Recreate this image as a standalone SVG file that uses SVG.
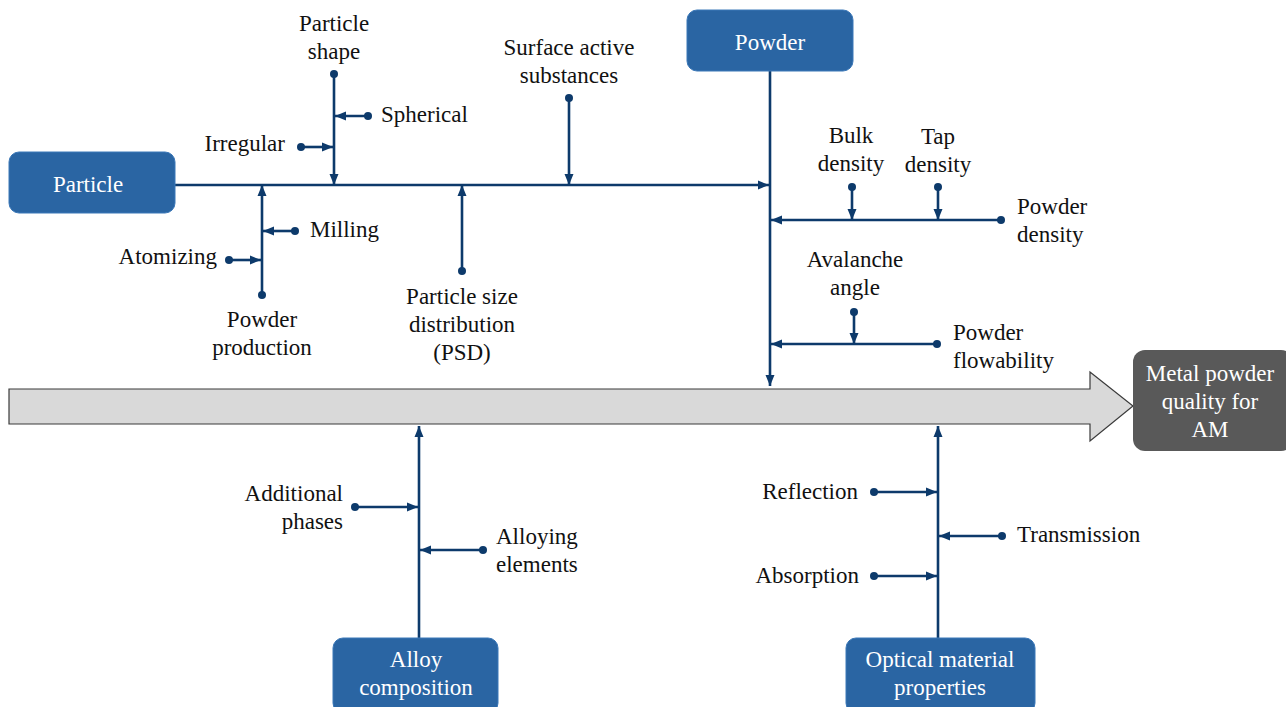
<svg xmlns="http://www.w3.org/2000/svg" width="1286" height="707" viewBox="0 0 1286 707" font-family="'Liberation Serif', 'DejaVu Serif', serif">
<style>
text{font-family:'Liberation Serif','DejaVu Serif',serif;font-size:23px;fill:#111}
.c{text-anchor:middle}
.e{text-anchor:end}
.w{fill:#fff}
.box{fill:#2a65a3;stroke:#3b78b8;stroke-width:1}
.ln{stroke:#0d3a6b;stroke-width:2.6;fill:none}
.a{marker-end:url(#arr)}
.d{marker-start:url(#dot)}
</style>
<defs>
<marker id="arr" markerUnits="userSpaceOnUse" markerWidth="12" markerHeight="10" refX="11" refY="5" orient="auto"><path d="M0,0.5 L11,5 L0,9.5 z" fill="#0d3a6b"/></marker>
<marker id="dot" markerUnits="userSpaceOnUse" markerWidth="10" markerHeight="10" refX="5" refY="5" orient="auto"><circle cx="5" cy="5" r="4" fill="#0d3a6b"/></marker>
</defs>
<rect width="1286" height="707" fill="#fff"/>
<g id="spine">
<polygon points="9,389 1090,389 1090,372 1133,406 1090,441 1090,424 9,424" fill="#d9d9d9" stroke="#3a3a3a" stroke-width="1.2"/>
</g>
<g id="connectors">
<line class="ln a" x1="175" y1="185" x2="769" y2="185"/>
<line class="ln a" x1="770" y1="71" x2="770" y2="386"/>
<line class="ln d a" x1="334" y1="74" x2="334" y2="185"/>
<line class="ln d a" x1="368" y1="116" x2="335" y2="116"/>
<line class="ln d a" x1="301" y1="147" x2="333" y2="147"/>
<line class="ln d a" x1="262" y1="295" x2="262" y2="185"/>
<line class="ln d a" x1="295" y1="231" x2="263" y2="231"/>
<line class="ln d a" x1="229" y1="260" x2="261" y2="260"/>
<line class="ln d a" x1="462" y1="271" x2="462" y2="185"/>
<line class="ln d a" x1="569" y1="98" x2="569" y2="185"/>
<line class="ln d a" x1="1001" y1="220" x2="771" y2="220"/>
<line class="ln d a" x1="852" y1="187" x2="852" y2="220"/>
<line class="ln d a" x1="938" y1="187" x2="938" y2="220"/>
<line class="ln d a" x1="937" y1="344" x2="771" y2="344"/>
<line class="ln d a" x1="854" y1="312" x2="854" y2="344"/>
<line class="ln a" x1="419" y1="638" x2="419" y2="426"/>
<line class="ln d a" x1="355" y1="507" x2="418" y2="507"/>
<line class="ln d a" x1="483" y1="550" x2="420" y2="550"/>
<line class="ln a" x1="938" y1="638" x2="938" y2="426"/>
<line class="ln d a" x1="874" y1="492" x2="937" y2="492"/>
<line class="ln d a" x1="1002" y1="536" x2="939" y2="536"/>
<line class="ln d a" x1="874" y1="576" x2="937" y2="576"/>
</g>
<g id="particle"><rect class="box" x="9" y="152" width="166" height="61" rx="10"/><text class="c w" x="88" y="192">Particle</text></g>
<g id="powder"><rect class="box" x="687" y="10" width="166" height="61" rx="10"/><text class="c w" x="770" y="50">Powder</text></g>
<g id="alloy"><rect class="box" x="333" y="638" width="165" height="75" rx="10"/><text class="c w" x="416" y="667">Alloy</text><text class="c w" x="416" y="695">composition</text></g>
<g id="optical"><rect class="box" x="846" y="638" width="189" height="75" rx="10"/><text class="c w" x="940" y="667">Optical material</text><text class="c w" x="940" y="695">properties</text></g>
<g id="result"><rect x="1133" y="350" width="160" height="101" rx="12" fill="#595959"/><text class="c w" x="1210" y="381">Metal powder</text><text class="c w" x="1210" y="409">quality for</text><text class="c w" x="1210" y="437">AM</text></g>
<g id="labels">
<text class="c" x="334" y="31">Particle</text><text class="c" x="334" y="59">shape</text>
<text x="381" y="122">Spherical</text>
<text class="e" x="285" y="151">Irregular</text>
<text x="310" y="237">Milling</text>
<text class="e" x="217" y="264">Atomizing</text>
<text class="c" x="262" y="327">Powder</text><text class="c" x="262" y="355">production</text>
<text class="c" x="462" y="304">Particle size</text><text class="c" x="462" y="332">distribution</text><text class="c" x="462" y="360">(PSD)</text>
<text class="c" x="569" y="55">Surface active</text><text class="c" x="569" y="83">substances</text>
<text class="c" x="851" y="143">Bulk</text><text class="c" x="851" y="171">density</text>
<text class="c" x="938" y="144">Tap</text><text class="c" x="938" y="172">density</text>
<text x="1017" y="214">Powder</text><text x="1017" y="242">density</text>
<text class="c" x="855" y="267">Avalanche</text><text class="c" x="855" y="295">angle</text>
<text x="953" y="340">Powder</text><text x="953" y="368">flowability</text>
<text class="e" x="343" y="501">Additional</text><text class="e" x="343" y="529">phases</text>
<text x="496" y="544">Alloying</text><text x="496" y="572">elements</text>
<text class="e" x="858" y="499">Reflection</text>
<text x="1017" y="542">Transmission</text>
<text class="e" x="859" y="583">Absorption</text>
</g>
</svg>
